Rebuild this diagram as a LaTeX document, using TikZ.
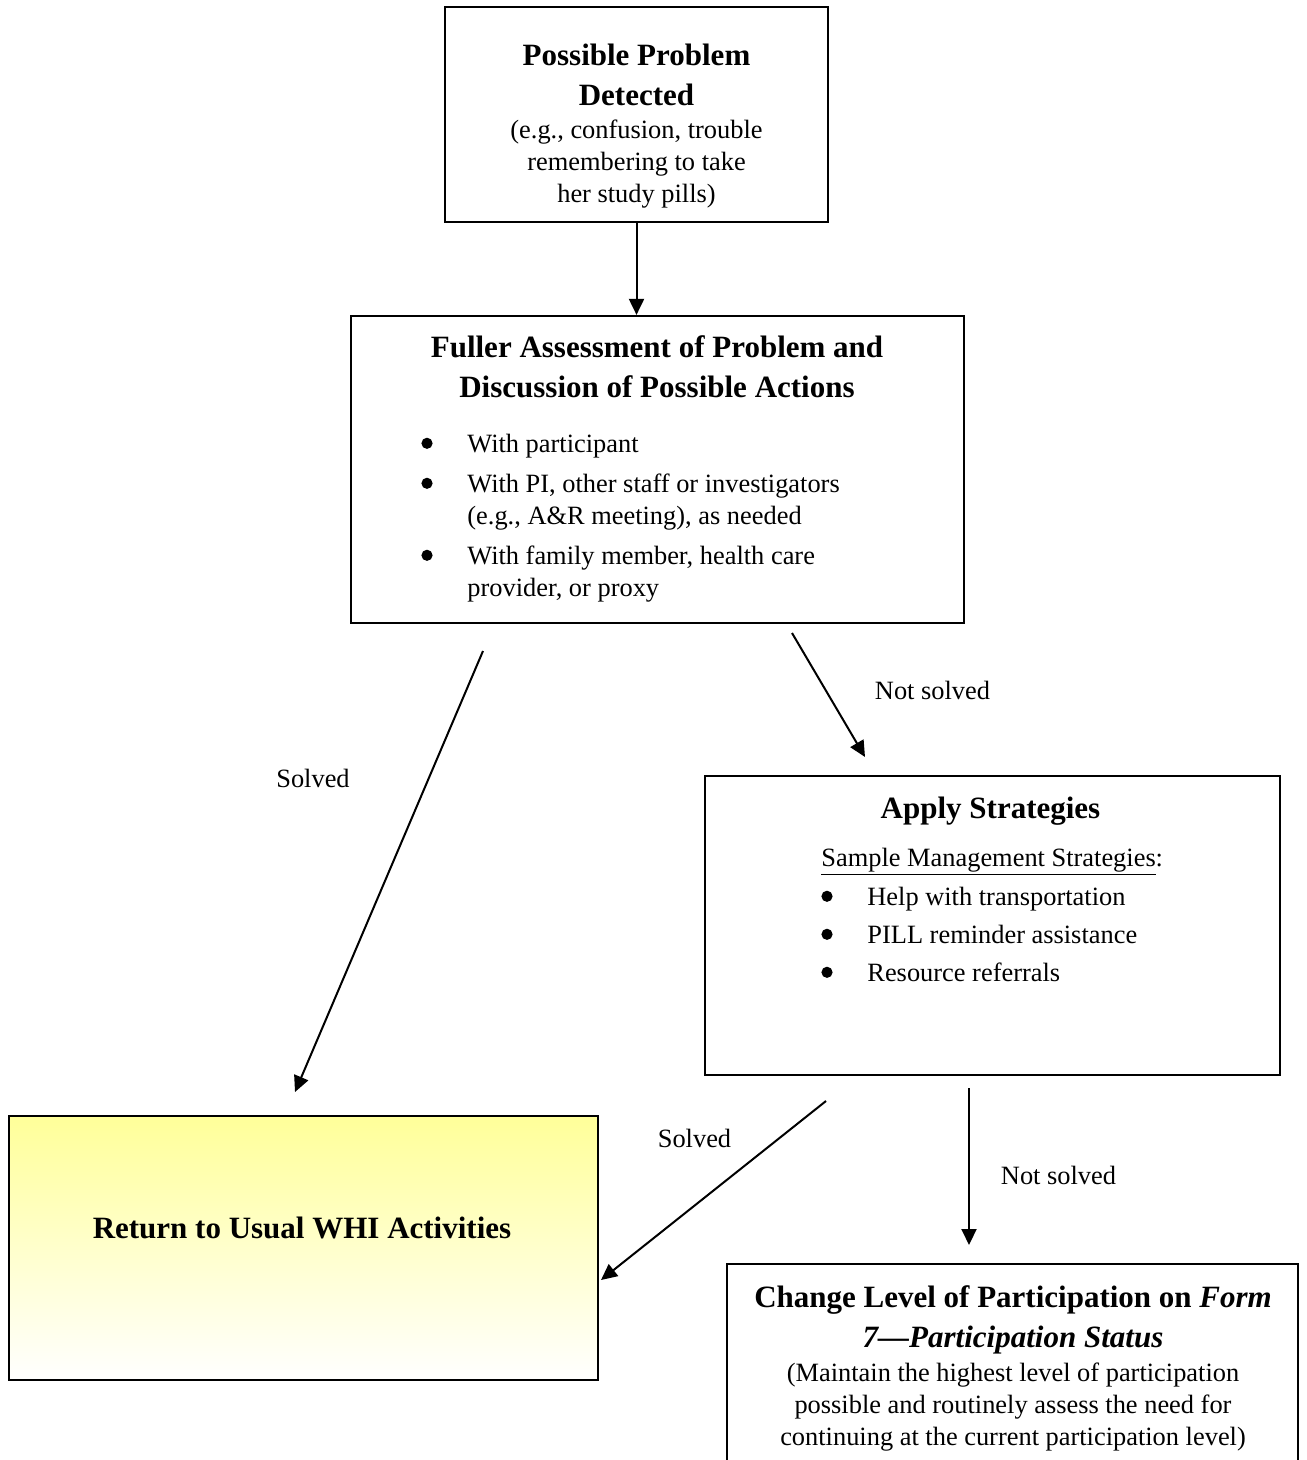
\documentclass[tikz,border=0pt]{standalone}
\usepackage{fontspec}
\setmainfont{Liberation Serif}
\usepackage{tikz}
\usetikzlibrary{arrows.meta}
\definecolor{cret}{HTML}{FFFF99}
\newcommand{\ttlfont}{\fontsize{15.5}{20}\selectfont\bfseries}
\newcommand{\txtfont}{\fontsize{13.2}{16}\selectfont}
\newcommand{\rows}[1]{\begin{tabular}[t]{@{}c@{}}#1\end{tabular}}
\newcommand{\bul}{\makebox[23pt][l]{\tikz[baseline=-4.6pt]\fill (0pt,0pt) circle (2.8pt);}}
\tikzset{
  box/.style={draw, line width=1.1pt, inner sep=0pt, fill=white},
  retn/.style={box, top color=cret, bottom color=white},
  ttl/.style={font=\ttlfont, inner sep=0pt, anchor=base},
  txt/.style={font=\txtfont, inner sep=0pt, anchor=base},
  lst/.style={txt, anchor=base west},
  lbl/.style={txt},
  pre/.style={-{Triangle[length=8pt, width=7.5pt]}, line width=1pt},
}
\begin{document}
\begin{tikzpicture}[x=0.5pt,y=-0.5pt]
\useasboundingbox (0,0) rectangle (1306,1460);
\clip (0,0) rectangle (1306,1460);
% ---------------- boxes
\node[box, minimum width=191.5pt, minimum height=107.5pt] (detect) at (636.5,114.5) {};
\node[box, minimum width=306.5pt, minimum height=153.5pt] (assess) at (657.5,469.5) {};
\node[box, minimum width=287.5pt, minimum height=149.5pt] (apply) at (992.5,925.5) {};
\node[retn, minimum width=294.5pt, minimum height=132pt] (usual) at (303.5,1248) {};
\node[box, minimum width=285.5pt, minimum height=128pt] (change) at (1012.5,1392) {};
% ---------------- texts
\node[ttl] (detectt) at (636.5,65.5) {\rows{Possible Problem\\Detected}};
\node[txt] (detectb) at (636.5,138.5) {\rows{(e.g., confusion, trouble\\remembering to take\\her study pills)}};
\node[ttl] (assesst) at (657,357.5) {\rows{Fuller Assessment of Problem and\\Discussion of Possible Actions}};
\node[lst] (assessb) at (421,452.5) {\begin{tabular}[t]{@{}l@{}}
  \bul With participant\\[4pt]
  \bul With PI, other staff or investigators\\
  \hphantom{\bul}(e.g., A\&R meeting), as needed\\[4pt]
  \bul With family member, health care\\
  \hphantom{\bul}provider, or proxy
\end{tabular}};
\node[ttl] (applyt) at (990.5,818.5) {Apply Strategies};
\node[lst] (applyb) at (821,866) {\begin{tabular}[t]{@{}l@{}}
  \underline{Sample Management Strategies}:\\[3.75pt]
  \bul Help with transportation\\[3pt]
  \bul PILL reminder assistance\\[3pt]
  \bul Resource referrals
\end{tabular}};
\node[ttl] (usualt) at (302,1238.5) {Return to Usual WHI Activities};
\node[ttl] (changet) at (1013,1307.5) {\rows{Change Level of Participation on \textit{Form}\\\textit{7—Participation Status}}};
\node[txt] (changeb) at (1013,1381.5) {\rows{(Maintain the highest level of participation\\possible and routinely assess the need for\\continuing at the current participation level)}};
% ---------------- labels
\node[lbl] (solvedl) at (313,787.5) {Solved};
\node[lbl] (notsolvedl) at (932.5,699.5) {Not solved};
\node[lbl] (solvedr) at (694.5,1147.5) {Solved};
\node[lbl] (notsolvedr) at (1058.5,1184.5) {Not solved};
% ---------------- arrows
\coordinate (sla) at (483,651);  \coordinate (slb) at (295,1092);
\coordinate (nla) at (792,633);  \coordinate (nlb) at (865,757);
\coordinate (sra) at (826,1101); \coordinate (srb) at (601,1280);
\coordinate (nra) at (969,1088); \coordinate (nrb) at (969,1245);
\draw[pre] (detect.south) -- (detect.south |- assess.north);
\draw[pre] (sla) -- (slb);
\draw[pre] (nla) -- (nlb);
\draw[pre] (sra) -- (srb);
\draw[pre] (nra) -- (nrb);
\end{tikzpicture}
\end{document}
